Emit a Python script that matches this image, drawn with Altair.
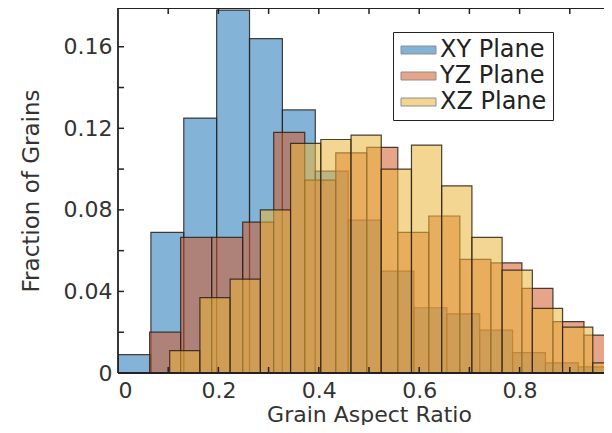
import altair as alt
import pandas as pd

# ---- data (histogram bin edges and fractions) ----
series_names = ["XY Plane", "YZ Plane", "XZ Plane"]

xy_edges = [0.0, 0.0655, 0.131, 0.1965, 0.262, 0.3275, 0.393, 0.4585, 0.524,
            0.5895, 0.655, 0.7205, 0.786, 0.8515, 0.917, 0.9825]
xy_vals = [0.009, 0.069, 0.125, 0.178, 0.164, 0.129, 0.099, 0.075, 0.050,
           0.032, 0.029, 0.021, 0.010, 0.005, 0.003]

yz_edges = [0.063, 0.1248, 0.1866, 0.2484, 0.3102, 0.372, 0.4338, 0.4956,
            0.5574, 0.6192, 0.681, 0.7428, 0.8046, 0.8664, 0.9282, 0.99]
yz_vals = [0.020, 0.0665, 0.0665, 0.074, 0.118, 0.0946, 0.108, 0.1106,
           0.069, 0.077, 0.0557, 0.054, 0.0415, 0.0252, 0.0186]

xz_edges = [0.103, 0.1632, 0.2234, 0.2836, 0.3438, 0.404, 0.4642, 0.5244,
            0.5846, 0.6448, 0.705, 0.7652, 0.8254, 0.8856, 0.9458, 1.006]
xz_vals = [0.011, 0.037, 0.046, 0.080, 0.1126, 0.1145, 0.1167, 0.100,
           0.1118, 0.0918, 0.0665, 0.0505, 0.0317, 0.0225, 0.005]

x_label_values = [0, 0.2, 0.4, 0.6, 0.8]
y_label_values = [0, 0.04, 0.08, 0.12, 0.16]
x_tick_values = [0.1, 0.2, 0.3, 0.4, 0.5, 0.6, 0.7, 0.8, 0.9]
y_tick_values = [0.02, 0.04, 0.06, 0.08, 0.10, 0.12, 0.14, 0.16]

colors = ["#1f74b8", "#d25a2a", "#ebb43a"]

rows = []
for name, edges, vals in [("XY Plane", xy_edges, xy_vals),
                          ("YZ Plane", yz_edges, yz_vals),
                          ("XZ Plane", xz_edges, xz_vals)]:
    for i, v in enumerate(vals):
        rows.append({"series": name, "x0": edges[i], "x1": edges[i + 1], "v": v})
df = pd.DataFrame(rows)

FONT = "DejaVu Sans"
W, H = 486, 365
xscale = alt.Scale(domain=[0, W / 502.0], nice=False, zero=False)
yscale = alt.Scale(domain=[0, 0.179], nice=False, zero=False)

# wide flat legend swatch: drawn to the right of a 20px symbol cell
legend_symbol = "M-1,-0.4L2.5,-0.4L2.5,0.4L-1,0.4Z"

bars = alt.Chart(df).mark_rect(
    clip=True, fillOpacity=0.55, stroke="#2b2118", strokeWidth=1.2, strokeOpacity=0.85
).encode(
    x=alt.X("x0:Q", scale=xscale,
            axis=alt.Axis(values=x_label_values, format="~g", ticks=False, domain=False,
                          grid=False, labelFont=FONT, labelFontSize=22, labelColor="#333",
                          labelPadding=7, title="Grain Aspect Ratio", titleFont=FONT,
                          titleFontSize=22, titleFontWeight="normal", titleColor="#333",
                          titleX=251, titleY=48, titleBaseline="alphabetic",
                          titleAlign="center")),
    x2="x1:Q",
    y=alt.Y("v:Q", scale=yscale,
            axis=alt.Axis(values=y_label_values, format="~g", ticks=False, domain=False,
                          grid=False, labelFont=FONT, labelFontSize=22, labelColor="#333",
                          labelPadding=6, labelFlush=False, title="Fraction of Grains",
                          titleFont=FONT, titleFontSize=23, titleFontWeight="normal",
                          titleColor="#333", titleX=-87, titleY=H / 2, titleAngle=-90,
                          titleBaseline="middle", titleAlign="center")),
    y2=alt.datum(0),
    color=alt.Color("series:N",
                    scale=alt.Scale(domain=series_names, range=colors),
                    sort=series_names,
                    legend=alt.Legend(orient="none", legendX=275, legendY=24, title=None,
                                      direction="vertical", strokeColor="#222",
                                      fillColor="white", padding=6,
                                      symbolType=legend_symbol, symbolSize=400,
                                      symbolOpacity=0.55, symbolStrokeColor="#333",
                                      symbolStrokeWidth=1, labelFont=FONT,
                                      labelFontSize=24, labelColor="#222",
                                      labelOffset=17, rowPadding=2)),
)

xt = pd.DataFrame({"x0": x_tick_values})
yt = pd.DataFrame({"v": y_tick_values})

bottom_ticks = alt.Chart(xt).mark_rule(color="#222", strokeWidth=1.5).encode(
    x=alt.X("x0:Q", scale=xscale), y=alt.value(H), y2=alt.value(H - 6))
top_ticks = alt.Chart(xt).mark_rule(color="#222", strokeWidth=1.5).encode(
    x=alt.X("x0:Q", scale=xscale), y=alt.value(0), y2=alt.value(6))
left_ticks = alt.Chart(yt).mark_rule(color="#222", strokeWidth=1.5).encode(
    y=alt.Y("v:Q", scale=yscale), x=alt.value(0), x2=alt.value(6))

# frame on top, left and bottom only (the reference is cut off at the right)
frame_df = pd.DataFrame({"side": ["top", "left", "bottom"]})
frame_top = alt.Chart(pd.DataFrame({"k": [0]})).mark_rule(color="#222", strokeWidth=1.8).encode(
    x=alt.value(0), x2=alt.value(W), y=alt.value(0))
frame_bottom = alt.Chart(pd.DataFrame({"k": [0]})).mark_rule(color="#222", strokeWidth=1.8).encode(
    x=alt.value(0), x2=alt.value(W), y=alt.value(H))
frame_left = alt.Chart(pd.DataFrame({"k": [0]})).mark_rule(color="#222", strokeWidth=1.8).encode(
    x=alt.value(0), y=alt.value(0), y2=alt.value(H))

chart = alt.layer(bars, bottom_ticks, top_ticks, left_ticks,
                  frame_top, frame_bottom, frame_left).properties(
    width=W, height=H,
    padding={"left": 110, "top": 0, "right": 0, "bottom": 52},
    autosize=alt.AutoSizeParams(type="none"),
    background="white",
).configure_view(strokeWidth=0)

chart.save("out.html", embed_options={"renderer": "svg", "actions": False})
